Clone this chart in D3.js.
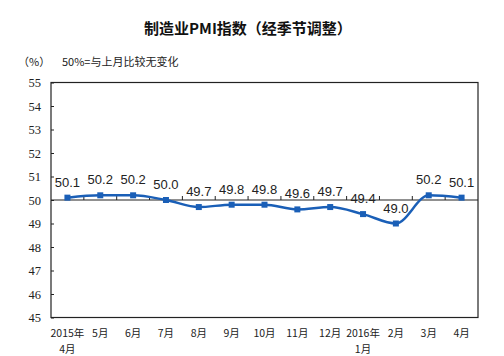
<!DOCTYPE html>
<html><head><meta charset="utf-8">
<script src="https://cdn.jsdelivr.net/npm/d3@7"></script>
<style>body{margin:0;background:#fff;}svg{display:block;}</style>
</head><body>
<svg id="c" width="504" height="356"></svg>
<script>
const months = ["2015年|4月","5月","6月","7月","8月","9月","10月","11月","12月","2016年|1月","2月","3月","4月"];
const pmi = [50.1,50.2,50.2,50.0,49.7,49.8,49.8,49.6,49.7,49.4,49.0,50.2,50.1];
const yTicks = [45,46,47,48,49,50,51,52,53,54,55];
const title = "制造业PMI指数（经季节调整）";
const unitLabel = "（%）";
const note = "50%=与上月比较无变化";

const svg = d3.select("#c");
const L=51,R=478,T=82.5,B=317.5;
const x = d3.scaleBand().domain(months).range([L,R]);
const y = d3.scaleLinear().domain([45,55]).range([B,T]);
const blue = "#1a5fb7";
const cjk = "'Noto Sans CJK SC','Noto Sans',sans-serif";

svg.append("text").attr("x",248).attr("y",34).attr("text-anchor","middle")
  .attr("font-family",cjk).attr("font-size",15).attr("font-weight",700).attr("fill","#111").text(title);
svg.append("text").attr("x",18).attr("y",66).attr("font-family",cjk).attr("font-size",11).attr("fill","#222").text(unitLabel);
svg.append("text").attr("x",62).attr("y",66).attr("font-family",cjk).attr("font-size",11).attr("fill","#222").text(note);

// frame
svg.append("rect").attr("x",L).attr("y",T).attr("width",R-L).attr("height",B-T)
  .attr("fill","none").attr("stroke","#222").attr("stroke-width",1.2);

// y axis
const ya = svg.append("g").attr("transform",`translate(${L},0)`)
  .call(d3.axisRight(y).tickValues(yTicks).tickSize(3).tickFormat(d3.format("d")));
ya.select(".domain").remove();
ya.selectAll("line").attr("stroke","#222");
ya.selectAll("text").attr("x",-10).attr("text-anchor","end")
  .attr("font-family","'Liberation Serif',serif").attr("font-size",12.5).attr("fill","#222");

// 50 baseline with ticks
svg.append("line").attr("x1",L).attr("x2",R).attr("y1",y(50)).attr("y2",y(50)).attr("stroke","#222").attr("stroke-width",1.2);
const bounds = months.slice(1).map(m=>x(m));
svg.append("g").selectAll("line").data(bounds).join("line")
  .attr("x1",d=>d).attr("x2",d=>d).attr("y1",y(50)).attr("y2",y(50)-4).attr("stroke","#222");

// x labels (two-line labels as separate text rows)
const xg = svg.append("g");
months.forEach(m=>{
  const parts = m.split("|");
  parts.forEach((p,i)=>{
    xg.append("text").attr("x",x(m)+x.bandwidth()/2).attr("y",337+i*15.5)
      .attr("text-anchor","middle").attr("font-family",cjk).attr("font-size",10.5).attr("fill","#222").text(p);
  });
});

// line
const pts = months.map((m,i)=>[x(m)+x.bandwidth()/2, y(pmi[i])]);
svg.append("path").attr("d",d3.line().curve(d3.curveMonotoneX)(pts))
  .attr("fill","none").attr("stroke",blue).attr("stroke-width",2.5);
svg.append("g").selectAll("rect").data(pts).join("rect")
  .attr("x",d=>d[0]-3).attr("y",d=>d[1]-3).attr("width",6).attr("height",6).attr("fill",blue);

// value labels
svg.append("g").selectAll("text").data(pmi).join("text")
  .attr("x",(d,i)=>pts[i][0]).attr("y",(d,i)=>pts[i][1]-11)
  .attr("text-anchor","middle").attr("font-family","'Liberation Sans',Arial,sans-serif")
  .attr("font-size",13).attr("fill","#222").text(d=>d.toFixed(1));
</script>
</body></html>
